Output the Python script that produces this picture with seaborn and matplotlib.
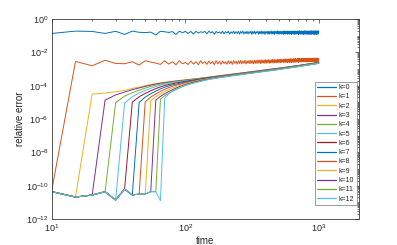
import numpy as np
import pandas as pd
import matplotlib
matplotlib.use("Agg")
import matplotlib.pyplot as plt
import seaborn as sns
from matplotlib.ticker import LogLocator, NullFormatter


# time grid of the dense runs (k=0, k=1 and the early part of k>=2)
TIME = list(range(10, 1001, 5))
TAIL_TIME = [120, 150, 200, 300, 500, 700, 1000]

# all values are log10(relative error)

K0 = [
    -0.86, -0.72, -0.74, -0.86, -0.73, -0.92, -0.72, -0.79, -0.81, -0.78,
    -0.95, -0.73, -0.76, -0.80, -0.75, -0.92, -0.73, -0.81, -0.74, -0.86,
    -0.74, -0.90, -0.73, -0.84, -0.76, -0.80, -0.74, -0.88, -0.72, -0.83,
    -0.75, -0.91, -0.74, -0.82, -0.77, -0.86, -0.73, -0.89, -0.75, -0.84,
    -0.73, -0.90, -0.76, -0.85, -0.72, -0.88, -0.75, -0.86, -0.73, -0.91,
    -0.74, -0.84, -0.72, -0.89, -0.76, -0.87, -0.73, -0.90, -0.75, -0.85,
    -0.72, -0.92, -0.74, -0.86, -0.73, -0.89, -0.76, -0.84, -0.72, -0.91,
    -0.75, -0.87, -0.71, -0.90, -0.74, -0.86, -0.73, -0.92, -0.75, -0.85,
    -0.72, -0.89, -0.74, -0.91, -0.73, -0.86, -0.71, -0.90, -0.75, -0.88,
    -0.73, -0.92, -0.72, -0.85, -0.74, -0.90, -0.71, -0.88, -0.73, -0.91,
    -0.74, -0.86, -0.72, -0.90, -0.75, -0.88, -0.71, -0.92, -0.73, -0.87,
    -0.72, -0.90, -0.74, -0.86, -0.71, -0.91, -0.73, -0.88, -0.75, -0.90,
    -0.71, -0.87, -0.73, -0.92, -0.72, -0.86, -0.74, -0.90, -0.71, -0.89,
    -0.73, -0.91, -0.72, -0.87, -0.74, -0.90, -0.71, -0.86, -0.73, -0.92,
    -0.72, -0.88, -0.70, -0.91, -0.73, -0.87, -0.72, -0.90, -0.74, -0.86,
    -0.71, -0.92, -0.73, -0.88, -0.72, -0.90, -0.70, -0.87, -0.73, -0.91,
    -0.72, -0.86, -0.71, -0.90, -0.74, -0.88, -0.72, -0.92, -0.71, -0.87,
    -0.73, -0.90, -0.72, -0.88, -0.70, -0.91, -0.73, -0.86, -0.72, -0.90,
    -0.71, -0.88, -0.73, -0.92, -0.72, -0.87, -0.70, -0.90, -0.73, -0.89,
    -0.72, -0.91, -0.71, -0.87, -0.73, -0.90, -0.72, -0.88, -0.71,
]

K1 = [
    -10.20, -2.54, -2.80, -2.47, -2.66, -2.68, -2.56, -2.76, -2.50, -2.58,
    -2.64, -2.72, -2.50, -2.70, -2.56, -2.74, -2.50, -2.68, -2.60, -2.72,
    -2.52, -2.70, -2.56, -2.74, -2.50, -2.66, -2.55, -2.72, -2.52, -2.68,
    -2.54, -2.73, -2.50, -2.69, -2.53, -2.72, -2.51, -2.67, -2.55, -2.71,
    -2.50, -2.68, -2.52, -2.72, -2.49, -2.66, -2.53, -2.70, -2.50, -2.67,
    -2.48, -2.69, -2.51, -2.66, -2.47, -2.70, -2.50, -2.65, -2.48, -2.68,
    -2.47, -2.66, -2.49, -2.69, -2.46, -2.65, -2.48, -2.67, -2.45, -2.64,
    -2.46, -2.67, -2.44, -2.65, -2.47, -2.63, -2.45, -2.66, -2.44, -2.64,
    -2.45, -2.62, -2.43, -2.65, -2.46, -2.63, -2.44, -2.61, -2.42, -2.64,
    -2.44, -2.62, -2.42, -2.60, -2.45, -2.63, -2.41, -2.61, -2.43, -2.59,
    -2.42, -2.62, -2.40, -2.60, -2.43, -2.58, -2.41, -2.61, -2.40, -2.59,
    -2.41, -2.60, -2.39, -2.58, -2.42, -2.61, -2.40, -2.57, -2.39, -2.60,
    -2.40, -2.58, -2.38, -2.60, -2.41, -2.57, -2.39, -2.59, -2.38, -2.56,
    -2.39, -2.59, -2.37, -2.56, -2.40, -2.58, -2.38, -2.57, -2.37, -2.59,
    -2.38, -2.56, -2.37, -2.58, -2.39, -2.55, -2.37, -2.57, -2.36, -2.55,
    -2.37, -2.57, -2.36, -2.54, -2.38, -2.56, -2.36, -2.55, -2.37, -2.57,
    -2.36, -2.54, -2.37, -2.56, -2.35, -2.55, -2.37, -2.53, -2.36, -2.56,
    -2.35, -2.55, -2.36, -2.53, -2.37, -2.56, -2.35, -2.54, -2.36, -2.52,
    -2.36, -2.55, -2.34, -2.53, -2.36, -2.54, -2.35, -2.52, -2.34, -2.55,
    -2.35, -2.53, -2.36, -2.54, -2.34, -2.52, -2.35, -2.53, -2.36,
]

# shared floor of k>=2 before each one jumps, t = 10..65
BASE = [-10.36, -10.68, -10.56, -10.36, -10.86, -10.20,
        -10.56, -10.50, -10.50, -10.36, -10.36, -10.90]

# k>=2 after the jump: t = 10+5k .. 100 step 5, then TAIL_TIME
K2 = [-4.50, -4.44, -4.36, -4.28, -4.16, -4.08, -3.99, -3.93, -3.88, -3.83,
      -3.79, -3.76, -3.73, -3.70, -3.68, -3.66, -3.64,
      -3.57, -3.48, -3.35, -3.17, -2.94, -2.78, -2.59]
K3 = [-4.86, -4.55, -4.38, -4.24, -4.13, -4.04, -3.96, -3.90, -3.85, -3.81,
      -3.78, -3.75, -3.72, -3.70, -3.68, -3.66,
      -3.59, -3.49, -3.36, -3.18, -2.95, -2.79, -2.60]
K4 = [-5.02, -4.62, -4.42, -4.26, -4.14, -4.04, -3.96, -3.90, -3.85, -3.81,
      -3.78, -3.75, -3.72, -3.70, -3.68,
      -3.60, -3.50, -3.37, -3.19, -2.96, -2.79, -2.61]
K5 = [-5.04, -4.66, -4.44, -4.28, -4.15, -4.05, -3.97, -3.91, -3.86, -3.82,
      -3.78, -3.75, -3.73, -3.71,
      -3.62, -3.51, -3.38, -3.20, -2.97, -2.80, -2.62]
K6 = [-4.98, -4.66, -4.46, -4.30, -4.17, -4.07, -3.99, -3.93, -3.88, -3.84,
      -3.80, -3.77, -3.74,
      -3.64, -3.52, -3.39, -3.21, -2.98, -2.81, -2.62]
K7 = [-5.00, -4.68, -4.48, -4.32, -4.19, -4.09, -4.01, -3.95, -3.90, -3.86,
      -3.82, -3.78,
      -3.66, -3.53, -3.40, -3.22, -2.98, -2.81, -2.63]
K8 = [-4.96, -4.68, -4.49, -4.34, -4.21, -4.11, -4.03, -3.97, -3.92, -3.87,
      -3.83,
      -3.69, -3.55, -3.41, -3.23, -2.99, -2.82, -2.63]
K9 = [-4.90, -4.66, -4.49, -4.35, -4.23, -4.13, -4.05, -3.99, -3.93, -3.88,
      -3.72, -3.57, -3.42, -3.24, -3.00, -2.83, -2.64]
K10 = [-4.86, -4.64, -4.48, -4.35, -4.24, -4.14, -4.06, -3.99, -3.93,
       -3.75, -3.59, -3.43, -3.25, -3.01, -2.84, -2.65]
K11 = [-4.80, -4.60, -4.46, -4.34, -4.23, -4.14, -4.06, -3.99,
       -3.79, -3.61, -3.45, -3.26, -3.02, -2.85, -2.65]
K12 = [-4.76, -4.48, -4.32, -4.20, -4.11, -4.03, -3.96,
       -3.80, -3.62, -3.46, -3.27, -3.03, -2.86, -2.66]
POST = [K2, K3, K4, K5, K6, K7, K8, K9, K10, K11, K12]

MATLAB_COLORS = ["#0072BD", "#D95319", "#EDB120", "#7E2F8E",
                 "#77AC30", "#4DBEEE", "#A2142F"]


def build_frame():
    rows = []
    series = [(0, TIME, K0), (1, TIME, K1)]
    for k, post in enumerate(POST, start=2):
        times = TIME[:k] + list(range(10 + 5 * k, 101, 5)) + TAIL_TIME
        series.append((k, times, BASE[:k] + post))
    for k, times, vals in series:
        assert len(times) == len(vals), k
        for t, v in zip(times, vals):
            rows.append({"k": f"k={k}", "time": t, "err": 10.0 ** v})
    return pd.DataFrame(rows)


df = build_frame()
labels = [f"k={k}" for k in range(13)]
palette = [MATLAB_COLORS[k % 7] for k in range(13)]

sns.set_style("white")
plt.rcParams["font.family"] = ["Liberation Sans", "DejaVu Sans"]
plt.rcParams["mathtext.fontset"] = "custom"
plt.rcParams["mathtext.rm"] = "Liberation Sans"

fig = plt.figure(figsize=(3.97, 2.45), dpi=100)
ax = fig.add_axes([0.131, 0.106, 0.773, 0.816])

sns.lineplot(data=df, x="time", y="err", hue="k", hue_order=labels,
             palette=palette, estimator=None, sort=False, linewidth=0.7, ax=ax)

ax.set_xscale("log")
ax.set_yscale("log")
ax.set_xlim(10, 2000)
ax.set_ylim(1e-12, 1)
ax.set_yticks([10.0 ** e for e in range(-12, 1, 2)])
ax.yaxis.set_minor_locator(LogLocator(base=10, subs=np.arange(1, 10), numticks=100))
ax.xaxis.set_minor_locator(LogLocator(base=10, subs=np.arange(2, 10), numticks=100))
ax.yaxis.set_minor_formatter(NullFormatter())
ax.xaxis.set_minor_formatter(NullFormatter())

edge = "#3a3a3a"
for sp in ax.spines.values():
    sp.set_linewidth(0.6)
    sp.set_color(edge)
ax.tick_params(which="both", direction="in", top=True, right=True,
               color=edge, width=0.5, labelsize=6.5, labelcolor="#262626", pad=2.5)
ax.tick_params(which="major", length=3)
ax.tick_params(which="minor", length=1.6)

ax.set_xlabel("time", fontsize=7, color="#262626", labelpad=1)
ax.set_ylabel("relative error", fontsize=7, color="#262626", labelpad=0.5)

handles, labs = ax.get_legend_handles_labels()
leg = ax.legend(handles, labs, loc="upper left", bbox_to_anchor=(0.857, 0.687),
                fontsize=5, frameon=True, fancybox=False, borderaxespad=0,
                borderpad=0.35, labelspacing=0.33, handlelength=2.7,
                handletextpad=0.4)
leg.get_frame().set_edgecolor("#6e6e6e")
leg.get_frame().set_linewidth(0.6)
for line in leg.get_lines():
    line.set_linewidth(0.9)

fig.savefig("out.png", dpi=100)
